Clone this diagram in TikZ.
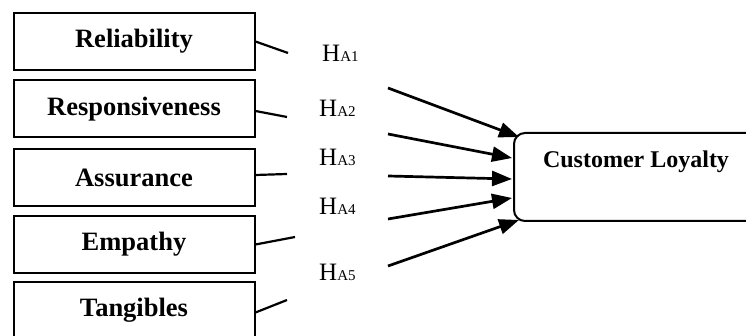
\documentclass[tikz,border=0pt]{standalone}
\usepackage{fontspec}
\setmainfont{Liberation Serif}
\usetikzlibrary{arrows.meta,calc}
\newcommand\hsubscr[1]{{\fontsize{15}{15}\selectfont #1}}
\begin{document}
\begin{tikzpicture}[x=1pt,y=-1pt,
  factor/.style={draw,line width=2pt,minimum width=241pt,minimum height=57pt,anchor=north west,inner sep=0pt,font=\fontsize{26.5}{30}\selectfont\bfseries},
  target/.style={draw,line width=2pt,rounded corners=11pt,minimum width=260pt,minimum height=88pt,anchor=north west,inner sep=0pt},
  targettext/.style={inner sep=0pt,font=\fontsize{24}{28}\selectfont\bfseries},
  hyp/.style={anchor=base west,inner sep=0pt,font=\fontsize{25}{28}\selectfont},
  link/.style={line width=2.2pt},
  effect/.style={line width=2.7pt,-{Triangle[length=20pt,width=15pt]}}
]
\useasboundingbox (0,0) rectangle (746,336);
\clip (0,0) rectangle (746,336);

\node[factor] (rel) at (12.5,12) {Reliability};
\node[factor] (resp) at (12.5,79.5) {Responsiveness};
\node[factor] (assu) at (12.5,148.5) {Assurance};
\node[factor] (emp) at (12.5,215) {Empathy};
\node[factor] (tang) at (12.5,281) {Tangibles};

\node[target] (cl) at (513,132) {};
\node[targettext] (cltext) at (636,162) {Customer Loyalty};

\coordinate (c1) at (288,53);
\coordinate (c2) at (287,117);
\coordinate (c3) at (287,174);
\coordinate (c4) at (295,237);
\coordinate (c5) at (287,300);

\draw[link] (rel.east) -- (c1);
\draw[link] ($(resp.east)+(0,2)$) -- (c2);
\draw[link] ($(assu.east)+(0,-3)$) -- (c3);
\draw[link] (emp.east) -- (c4);
\draw[link] ($(tang.east)+(0,2)$) -- (c5);

\node[hyp] (h1) at (322,62) {H\hsubscr{A1}};
\node[hyp] (h2) at (319,117) {H\hsubscr{A2}};
\node[hyp] (h3) at (319,166) {H\hsubscr{A3}};
\node[hyp] (h4) at (319,215) {H\hsubscr{A4}};
\node[hyp] (h5) at (319,280) {H\hsubscr{A5}};

\coordinate (a1) at (388,88);
\coordinate (a2) at (388,134);
\coordinate (a3) at (388,176);
\coordinate (a4) at (388,219);
\coordinate (a5) at (388,266);

\draw[effect] (a1) -- ($(cl.north west)+(6,5)$);
\draw[effect] (a2) -- ($(cl.west)+(-1,-19)$);
\draw[effect] (a3) -- ($(cl.west)+(-1,2)$);
\draw[effect] (a4) -- ($(cl.west)+(-1,21)$);
\draw[effect] (a5) -- ($(cl.south west)+(6,-2)$);
\end{tikzpicture}
\end{document}
